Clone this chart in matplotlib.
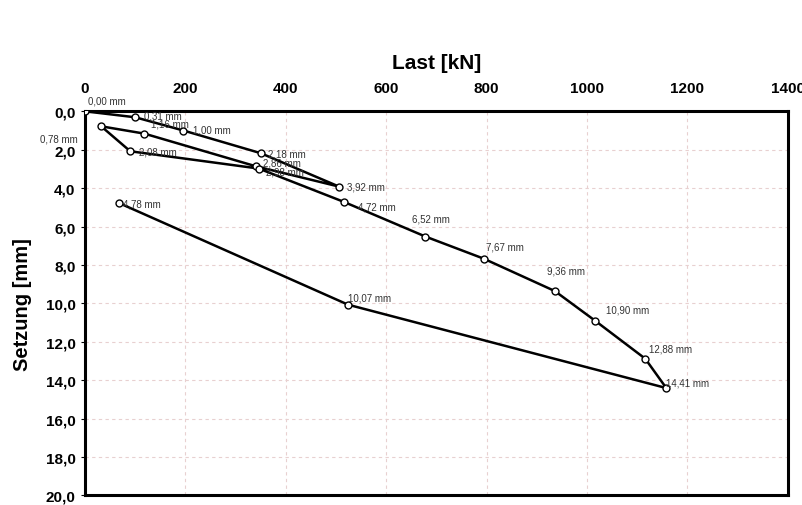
import matplotlib
matplotlib.use("Agg")
import matplotlib.pyplot as plt
from matplotlib.ticker import FuncFormatter, MultipleLocator

plt.rcParams['font.family'] = ['Liberation Sans', 'DejaVu Sans']

# load [kN] and settlement [mm], in test order
last = [0, 100, 196, 350, 506, 340, 118, 32, 90, 346, 516, 678, 794, 936, 1016, 1116, 1158, 524, 68]
setzung = [0.00, 0.31, 1.00, 2.18, 3.92, 2.86, 1.16, 0.78, 2.08, 2.98, 4.72, 6.52, 7.67, 9.36,
           10.90, 12.88, 14.41, 10.07, 4.78]
labels = ["%.2f mm" % s for s in setzung]
labels = [l.replace(".", ",") for l in labels]

# label offsets in points (dx, dy)
offs = [(2, 8), (6, 1), (7, 1), (5, 0), (6, 0), (5, 3), (5, 7), (-44, -9), (6, 0), (5, -2),
        (10, -3), (-10, 13), (2, 9), (-6, 15), (8, 8), (3, 7), (0, 4), (0, 5), (3, 0)]

fig = plt.figure(figsize=(8.03, 5.06), dpi=100)
ax = fig.add_axes([0.106, 0.019, 0.875, 0.759])

ax.plot(last, setzung, color='black', lw=1.8, marker='o', ms=5,
        mfc='white', mec='black', mew=1.0, zorder=3)

for x, y, t, o in zip(last, setzung, labels, offs):
    ax.annotate(t, (x, y), xytext=o, textcoords='offset points', fontsize=7,
                color='#333333', va='center', ha='left', zorder=4)

ax.set_xlim(0, 1400)
ax.set_ylim(20, 0)
ax.xaxis.set_major_locator(MultipleLocator(200))
ax.yaxis.set_major_locator(MultipleLocator(2))
ax.yaxis.set_major_formatter(FuncFormatter(lambda v, p: ("%.1f" % v).replace(".", ",")))

ax.xaxis.tick_top()
ax.xaxis.set_label_position('top')
ax.tick_params(axis='x', length=0, pad=12, labelsize=11)
ax.tick_params(axis='y', length=3, pad=4, labelsize=11)
for lab in ax.get_xticklabels() + ax.get_yticklabels():
    lab.set_fontweight('bold')

ax.set_xlabel('Last [kN]', fontsize=15, fontweight='bold', labelpad=9)
ax.set_ylabel('Setzung [mm]', fontsize=14.5, fontweight='bold', labelpad=10)

ax.grid(True, color='#e8d0d0', linestyle=(0, (3, 3)), lw=0.8)
ax.set_axisbelow(True)
for sp in ax.spines.values():
    sp.set_linewidth(2.2)
    sp.set_color('black')

fig.savefig('out.png', dpi=100)
